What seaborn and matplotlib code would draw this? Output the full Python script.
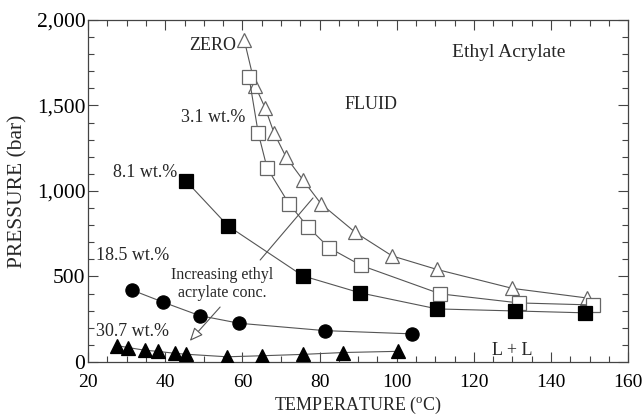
import numpy as np
import pandas as pd
import matplotlib
matplotlib.use("Agg")
import matplotlib.pyplot as plt
import seaborn as sns

# values
t_zero = [60.5, 63.3, 65.9, 68.2, 71.3, 75.7, 80.4, 89.3, 98.8, 110.4, 130.0, 149.3]
p_zero = [1880, 1614, 1485, 1339, 1199, 1064, 924, 757, 620, 541, 430, 374]

t_31 = [61.7, 64.1, 66.4, 72.1, 77.0, 82.5, 90.8, 111.3, 131.7, 150.9]
p_31 = [1667, 1339, 1134, 924, 789, 667, 564, 398, 345, 333]

t_81 = [45.4, 56.3, 75.7, 90.5, 110.5, 130.7, 148.9]
p_81 = [1058, 795, 503, 404, 310, 298, 287]

t_185 = [31.3, 39.5, 48.9, 59.2, 81.4, 104.0]
p_185 = [421, 349, 271, 226, 183, 164]

t_307 = [27.6, 30.4, 34.8, 38.0, 42.6, 45.4, 56.0, 65.0, 75.6, 86.2, 100.4]
p_307 = [95, 84, 68, 62, 50, 45, 30, 36, 44, 55, 62]

series = [
    ("ZERO", t_zero, p_zero, "^", "white", "#666666"),
    ("3.1 wt.%", t_31, p_31, "s", "white", "#666666"),
    ("8.1 wt.%", t_81, p_81, "s", "black", "black"),
    ("18.5 wt.%", t_185, p_185, "o", "black", "black"),
    ("30.7 wt.%", t_307, p_307, "^", "black", "black"),
]

sns.set_style("ticks")
plt.rcParams["font.family"] = ["Liberation Serif", "DejaVu Serif"]
plt.rcParams["mathtext.fontset"] = "custom"
plt.rcParams["mathtext.rm"] = "Liberation Serif"

fig, ax = plt.subplots(figsize=(6.43, 4.16), dpi=100)
fig.subplots_adjust(left=0.137, right=0.977, top=0.952, bottom=0.130)

for name, t, p, mk, fc, ec in series:
    df = pd.DataFrame({"T": t, "P": p})
    sns.lineplot(data=df, x="T", y="P", ax=ax, color="#555555", linewidth=0.8,
                 marker=mk, markersize=10 if mk != "o" else 9.5,
                 markerfacecolor=fc, markeredgecolor=ec, markeredgewidth=0.9,
                 estimator=None, zorder=3)

ax.set_xlim(20, 160)
ax.set_ylim(0, 2000)
ax.set_xticks(np.arange(20, 161, 20))
ax.set_xticks(np.arange(20, 161, 5), minor=True)
ax.set_yticks(np.arange(0, 2001, 500))
ax.set_yticks(np.arange(0, 2001, 100), minor=True)
ax.set_yticklabels([f"{v:,}" for v in range(0, 2001, 500)])
ax.tick_params(which="both", direction="in", top=True, right=True, colors="#444444",
               labelcolor="black")
ax.tick_params(which="major", length=7, width=0.8)
ax.tick_params(which="minor", length=4, width=0.8)
ax.tick_params(axis="x", labelsize=14, pad=9)
ax.tick_params(axis="y", labelsize=15.5, pad=2)
for s in ax.spines.values():
    s.set_color("#444444")
    s.set_linewidth(0.9)

ax.set_xlabel("TEMPERATURE ($^{\\rm o}$C)", fontsize=13)
ax.set_ylabel("PRESSURE (bar)", fontsize=15.5)
ax.xaxis.set_label_coords(0.5, -0.095)
ax.yaxis.set_label_coords(-0.113, 0.5)

ax.text(58.5, 1850, "ZERO", fontsize=13, ha="right", va="center")
ax.text(60.7, 1427, "3.1 wt.%", fontsize=13, ha="right", va="center")
ax.text(43.0, 1105, "8.1 wt.%", fontsize=13, ha="right", va="center")
ax.text(22.0, 620, "18.5 wt.%", fontsize=13, ha="left", va="center")
ax.text(22.0, 175, "30.7 wt.%", fontsize=13, ha="left", va="center")
ax.text(93.4, 1503, "FLUID", fontsize=13, ha="center", va="center")
ax.text(129.1, 1807, "Ethyl Acrylate", fontsize=14, ha="center", va="center")
ax.text(129.9, 65, "L + L", fontsize=13, ha="center", va="center")
ax.text(54.7, 458, "Increasing ethyl\nacrylate conc.", fontsize=11.5,
        ha="center", va="center", linespacing=1.15)
ax.plot([64.6, 78.3], [596, 959], color="#555555", linewidth=0.8)
ax.annotate("", xy=(45.9, 111), xytext=(54.7, 333),
            arrowprops=dict(arrowstyle="-|>,head_length=0.8,head_width=0.35",
                            facecolor="white", edgecolor="#555555", linewidth=0.8))

plt.savefig("out.png", dpi=100)
